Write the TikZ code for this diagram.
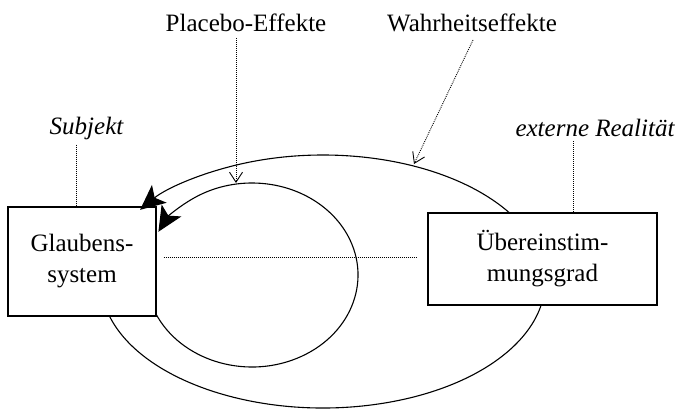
\documentclass[tikz,border=0pt]{standalone}
\usepackage{fontspec}
\setmainfont{Liberation Serif}
\usetikzlibrary{arrows.meta}
\begin{document}
\begin{tikzpicture}[x=1pt,y=1pt,
  every node/.style={font=\fontsize{25}{31}\selectfont},
  boxnode/.style={draw,line width=1.1pt,fill=white,align=center,inner sep=0pt},
  labelnode/.style={anchor=base,inner sep=0pt},
  ring/.style={line width=1.1pt},
  bigtip/.style={-{Stealth[length=25pt,width=23pt,inset=6pt]}},
  dotline/.style={line width=0.9pt,dash pattern=on 0.9pt off 1.1pt},
  opentip/.style={-{Straight Barb[length=10pt,width=13pt,line width=0.9pt]}}
]
\useasboundingbox (0,0) rectangle (685,410);
% rings (body, behind the boxes)
\draw[ring] (323,128.5) ++(195.8:222 and 126.5)
  arc[start angle=195.8,end angle=470,x radius=222,y radius=126.5];
\draw[ring] (252,135) ++(205:106 and 92)
  arc[start angle=205,end angle=480,x radius=106,y radius=92];
% boxes
\node[boxnode,minimum width=148pt,minimum height=109pt] (glaub) at (82,148.5) {Glaubens-\\system};
\node[boxnode,minimum width=229pt,minimum height=92pt] (ueber) at (542.5,151) {Übereinstim-\\mungsgrad};
% ring ends with arrow tips, on top
\draw[ring,bigtip] (323,128.5) ++(470:222 and 126.5)
  arc[start angle=470,end angle=505.5,x radius=222,y radius=126.5];
\draw[ring,bigtip] (252,135) ++(480:106 and 92)
  arc[start angle=480,end angle=512,x radius=106,y radius=92];
% labels
\node[labelnode] (subj) at (86.5,275) {\itshape Subjekt};
\node[labelnode] (ext) at (595,273) {\itshape externe Realität};
\node[labelnode] (plac) at (246,378) {Placebo-Effekte};
\node[labelnode] (wahr) at (472,378) {Wahrheitseffekte};
\coordinate (sx) at (76,0);
\coordinate (ex) at (573,0);
\coordinate (pstart) at (236,372);
\coordinate (pend) at (236,227);
\coordinate (wstart) at (473,370);
\coordinate (wend) at (414,246);
% connectors
\draw[dotline] (subj.south -| sx) ++(0,-4) -- (glaub.north -| sx);
\draw[dotline] (ext.south -| ex) ++(0,-4) -- (ueber.north -| ex);
\draw[dotline] ([xshift=7pt]glaub.east |- 0,153) -- ([xshift=-10pt]ueber.west |- 0,153);
\draw[dotline,opentip] (pstart) -- (pend);
\draw[dotline,opentip] (wstart) -- (wend);
\end{tikzpicture}
\end{document}
